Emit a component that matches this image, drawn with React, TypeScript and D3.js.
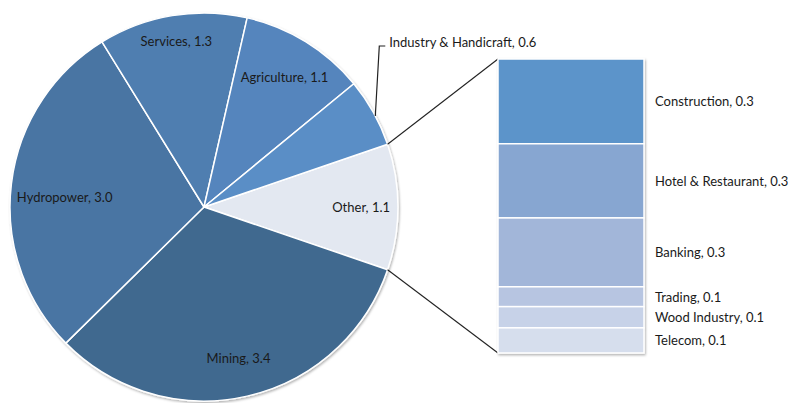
import React from "react";
import * as d3 from "d3";

// Main pie data (clockwise order starting with "Other")
const pieCategories = ["Other", "Mining", "Hydropower", "Services", "Agriculture", "Industry & Handicraft"];
const pieValues = [1.1, 3.4, 3.0, 1.3, 1.1, 0.6];

// Breakdown of "Other"
const barCategories = ["Construction", "Hotel & Restaurant", "Banking", "Trading", "Wood Industry", "Telecom"];
const barValues = [0.32, 0.28, 0.26, 0.075, 0.08, 0.095];

// styling / layout (not data)
const pieColors: Record<string, string> = {
  "Other": "#e3e8f1",
  "Mining": "#40698f",
  "Hydropower": "#4874a3",
  "Services": "#4f7eb0",
  "Agriculture": "#5585bd",
  "Industry & Handicraft": "#5a8ec6",
};
const barColors = ["#5c94ca", "#87a6d1", "#a2b6d9", "#b7c5e1", "#c7d2e8", "#d6deed"];
const labelRadius: Record<string, number> = {
  "Other": 0.81,
  "Mining": 0.8,
  "Hydropower": 0.72,
  "Services": 0.87,
  "Agriculture": 0.79,
};
const labelAngleShift: Record<string, number> = {
  "Hydropower": -0.05,
};

const W = 790;
const H = 403;
const cx = 204;
const cy = 207;
const R = 194;
const barLeft = 498;
const barRight = 644;
const barTop = 59;
const barBottom = 353;
const FONT = "Lato, 'Open Sans', sans-serif";
const TEXT = "#1a1a1a";

export default function App() {
  const total = d3.sum(pieValues);
  const start = Math.PI / 2 - Math.PI * (pieValues[0] / total);
  const pie = d3
    .pie<number>()
    .sort(null)
    .value((d) => d)
    .startAngle(start)
    .endAngle(start + 2 * Math.PI);
  const arcs = pie(pieValues);
  const arcGen = d3.arc<d3.PieArcDatum<number>>().innerRadius(0).outerRadius(R);

  const pt = (a: number, r: number) => [cx + r * Math.sin(a), cy - r * Math.cos(a)];

  const barTotal = d3.sum(barValues);
  const y = d3.scaleLinear().domain([0, barTotal]).range([barTop, barBottom]);
  const cum = d3.cumsum(barValues);

  const otherArc = arcs[0];
  const [p1x, p1y] = pt(otherArc.startAngle, R);
  const [p2x, p2y] = pt(otherArc.endAngle, R);

  // Industry leader line
  const ind = arcs[5];
  const indMid = (ind.startAngle + ind.endAngle) / 2;
  const [lx0, ly0] = pt(indMid + 0.02, R);

  return (
    <svg width={W} height={H} style={{ position: "absolute", left: 0, top: 0 }}>
      <defs>
        <filter id="sh" x="-10%" y="-10%" width="120%" height="120%">
          <feDropShadow dx="1" dy="1.5" stdDeviation="1.2" floodColor="#000" floodOpacity="0.3" />
        </filter>
      </defs>
      <rect width={W} height={H} fill="#fff" />
      <g filter="url(#sh)">
        {arcs.map((a, i) => (
          <path
            key={pieCategories[i]}
            d={arcGen(a) || ""}
            transform={`translate(${cx},${cy})`}
            fill={pieColors[pieCategories[i]]}
            stroke="#ffffff"
            strokeWidth={1.5}
            strokeLinejoin="round"
          />
        ))}
      </g>
      {/* pie labels */}
      {arcs.map((a, i) => {
        const name = pieCategories[i];
        if (!(name in labelRadius)) return null;
        const mid = (a.startAngle + a.endAngle) / 2 + (labelAngleShift[name] || 0);
        const [x, yy] = pt(mid, R * labelRadius[name]);
        return (
          <text
            key={name}
            x={x}
            y={yy}
            textAnchor="middle"
            dominantBaseline="central"
            fontFamily={FONT}
            fontSize={13}
            fill={TEXT}
          >
            {`${name}, ${pieValues[i].toFixed(1)}`}
          </text>
        );
      })}
      {/* Industry label with leader line */}
      <polyline
        points={`${lx0},${ly0} ${lx0 + 4},46 ${lx0 + 10},46`}
        fill="none"
        stroke="#222"
        strokeWidth={1.2}
      />
      <text x={lx0 + 14} y={42} dominantBaseline="central" fontFamily={FONT} fontSize={13} fill={TEXT}>
        {`${pieCategories[5]}, ${pieValues[5].toFixed(1)}`}
      </text>

      {/* connectors */}
      <line x1={p1x} y1={p1y} x2={barLeft} y2={barTop} stroke="#222" strokeWidth={1.1} />
      <line x1={p2x} y1={p2y} x2={barLeft} y2={barBottom} stroke="#222" strokeWidth={1.1} />

      {/* bar of pie */}
      <g filter="url(#sh)">
        {barValues.map((v, i) => {
          const y0 = y(cum[i] - v);
          const y1 = y(cum[i]);
          return (
            <rect
              key={barCategories[i]}
              x={barLeft}
              y={y0}
              width={barRight - barLeft}
              height={y1 - y0}
              fill={barColors[i]}
              stroke="#ffffff"
              strokeWidth={1.5}
            />
          );
        })}
      </g>
      {barValues.map((v, i) => {
        const ym = y(cum[i] - v / 2);
        return (
          <text
            key={barCategories[i]}
            x={655}
            y={ym}
            dominantBaseline="central"
            fontFamily={FONT}
            fontSize={13}
            fill={TEXT}
          >
            {`${barCategories[i]}, ${v.toFixed(1)}`}
          </text>
        );
      })}
    </svg>
  );
}
